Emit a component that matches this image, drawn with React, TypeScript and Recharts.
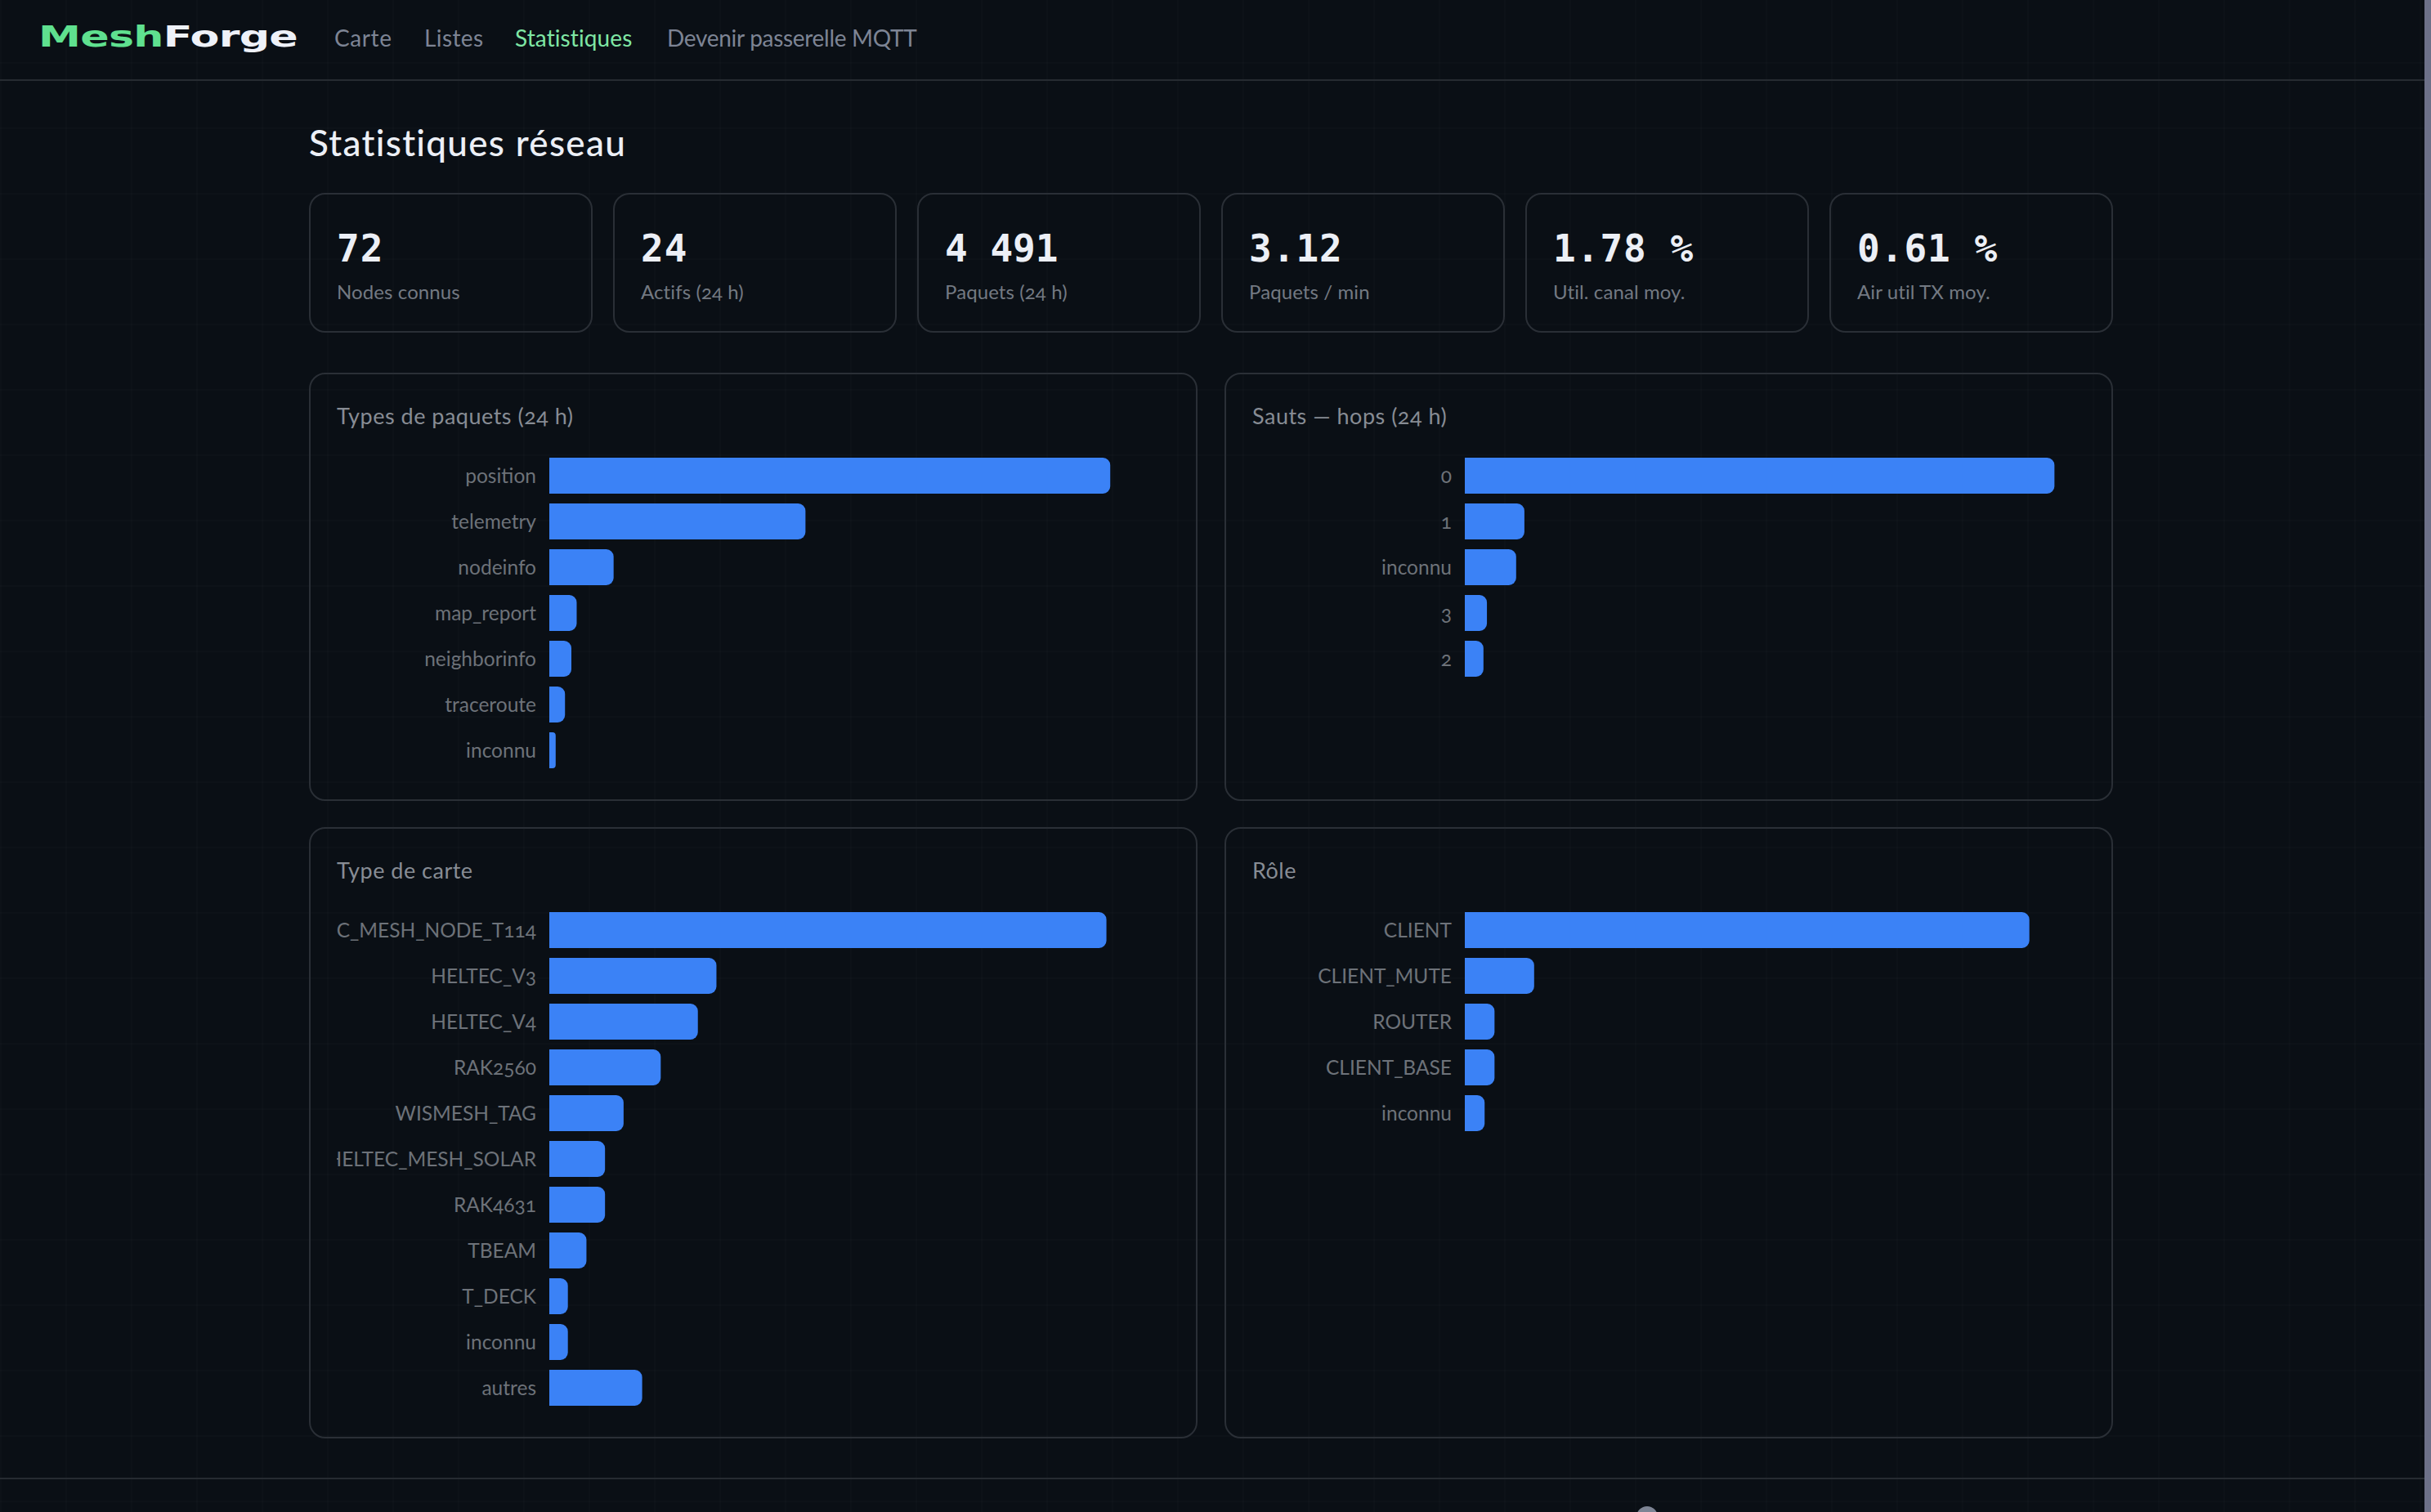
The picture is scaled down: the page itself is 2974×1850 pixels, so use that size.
import React from "react";
import { BarChart, Bar, XAxis, YAxis } from "recharts";

const packetTypes = ["position", "telemetry", "nodeinfo", "map_report", "neighborinfo", "traceroute", "inconnu"];
const packetCounts = [2643, 1207, 303, 129, 104, 74, 30];
const hopLabels = ["0", "1", "inconnu", "3", "2"];
const hopCounts = [3572, 361, 311, 134, 113];
const boardLabels = ["HELTEC_MESH_NODE_T114", "HELTEC_V3", "HELTEC_V4", "RAK2560", "WISMESH_TAG", "HELTEC_MESH_SOLAR", "RAK4631", "TBEAM", "T_DECK", "inconnu", "autres"];
const boardCounts = [30, 9, 8, 6, 4, 3, 3, 2, 1, 1, 5];
const roleLabels = ["CLIENT", "CLIENT_MUTE", "ROUTER", "CLIENT_BASE", "inconnu"];
const roleCounts = [57, 7, 3, 3, 2];
const navItems = ["Carte", "Listes", "Statistiques", "Devenir passerelle MQTT"];
const navLefts = [409, 519, 630, 816];
const navSpacing = [0.6, 0.4, 0.1, -0.3];
const statValues = ["72", "24", "4\u202F491", "3.12", "1.78 %", "0.61 %"];
const statLabels = ["Nodes connus", "Actifs (24 h)", "Paquets (24 h)", "Paquets / min", "Util. canal moy.", "Air util TX moy."];

const SANS = "Lato, 'Open Sans', sans-serif";
const ONUM = { fontFeatureSettings: "'onum' 1", fontVariantNumeric: "oldstyle-nums" } as React.CSSProperties;

function rows(labels: string[], values: number[]) {
  return labels.map((label, i) => ({ label, value: values[i] }));
}

function Panel({ title, labels, values, max, height }: { title: string; labels: string[]; values: number[]; max: number; height: number }) {
  return (
    <div style={{ width: 1087, height, boxSizing: "border-box", border: "2px solid #2a2f36", borderRadius: 20, padding: "0 32px", position: "relative" }}>
      <div style={{ position: "absolute", left: 32, top: 31, fontFamily: SANS, fontSize: 27, letterSpacing: 0.5, lineHeight: "40px", color: "#878c94", ...ONUM }}>{title}</div>
      <div style={{ position: "absolute", left: 32, top: 95.6 }}>
        <BarChart width={1019} height={labels.length * 56} data={rows(labels, values)} layout="vertical" margin={{ top: 0, right: 32, bottom: 0, left: 0 }}>
          <XAxis type="number" hide domain={[0, max]} />
          <YAxis type="category" dataKey="label" width={260} interval={0} tickLine={false} axisLine={false} tickMargin={10} tick={{ fill: "#6d7279", fontSize: 24.5, fontFamily: SANS, letterSpacing: 0, dy: 0.5, style: ONUM } as any} />
          <Bar dataKey="value" fill="#3b82f6" barSize={44} radius={[0, 9, 9, 0]} isAnimationActive={false} />
        </BarChart>
      </div>
    </div>
  );
}

export default function App() {
  return (
    <div style={{ position: "absolute", left: 0, top: 0, width: 2974, height: 1850, overflow: "hidden", backgroundColor: "#0a0f15", backgroundImage: "linear-gradient(rgba(255,255,255,0.012) 2px, transparent 2px), linear-gradient(90deg, rgba(255,255,255,0.012) 2px, transparent 2px)", backgroundSize: "80px 80px", backgroundPosition: "0 -4px", fontFamily: SANS }}>
      <div style={{ position: "absolute", left: 2966, top: 0, width: 8, height: 1850, background: "#6d7189" }} />
      <div style={{ position: "absolute", left: 0, top: 97, width: 2966, height: 2, background: "#262b31" }} />
      <div style={{ position: "absolute", left: 47, top: 22, fontFamily: "'DejaVu Sans', sans-serif", fontWeight: 700, fontSize: 36, lineHeight: "46px", letterSpacing: -0.5, whiteSpace: "nowrap", transform: "scaleX(1.45)", transformOrigin: "left center" }}>
        <span style={{ color: "#5fe08f" }}>Mesh</span><span style={{ color: "#eef1f8" }}>Forge</span>
      </div>
      {navItems.map((n, i) => (
        <span key={n} style={{ position: "absolute", left: navLefts[i], top: 26, fontSize: 28, lineHeight: "40px", letterSpacing: navSpacing[i], color: n === "Statistiques" ? "#7fe6a4" : "#7d8494", whiteSpace: "nowrap" }}>{n}</span>
      ))}
      <div style={{ position: "absolute", left: 378, top: 148, fontSize: 44, lineHeight: "52px", fontWeight: 500, letterSpacing: 1.3, color: "#eceff6" }}>Statistiques réseau</div>
      <div style={{ position: "absolute", left: 378, top: 236, display: "flex", gap: 25.5 }}>
        {statValues.map((v, i) => (
          <div key={statLabels[i]} style={{ width: 346.5, height: 171, boxSizing: "border-box", border: "2px solid #2a2f36", borderRadius: 20, position: "relative" }}>
            <div style={{ position: "absolute", left: 32, top: 36, fontFamily: "'DejaVu Sans Mono', monospace", fontWeight: 700, fontSize: 46, lineHeight: "60px", letterSpacing: 1, color: "#eceff6", whiteSpace: "pre" }}>{v}</div>
            <div style={{ position: "absolute", left: 32, top: 102, fontSize: 24, lineHeight: "34px", letterSpacing: 0.1, color: "#737982", ...ONUM }}>{statLabels[i]}</div>
          </div>
        ))}
      </div>
      <div style={{ position: "absolute", left: 378, top: 456, display: "flex", gap: 33 }}>
        <Panel title="Types de paquets (24 h)" labels={packetTypes} values={packetCounts} max={2800} height={524} />
        <Panel title="Sauts — hops (24 h)" labels={hopLabels} values={hopCounts} max={3600} height={524} />
      </div>
      <div style={{ position: "absolute", left: 378, top: 1012, display: "flex", gap: 33 }}>
        <Panel title="Type de carte" labels={boardLabels} values={boardCounts} max={32} height={748} />
        <Panel title="Rôle" labels={roleLabels} values={roleCounts} max={60} height={748} />
      </div>
      <div style={{ position: "absolute", left: 0, top: 1808, width: 2966, height: 2, background: "#262b31" }} />
      <div style={{ position: "absolute", left: 934, top: 1843, fontSize: 26, lineHeight: "34px", color: "#5fb884" }}>MeshForge</div>
      <div style={{ position: "absolute", left: 2002, top: 1843, width: 26, height: 26, borderRadius: 13, background: "#7d8494" }} />
    </div>
  );
}
